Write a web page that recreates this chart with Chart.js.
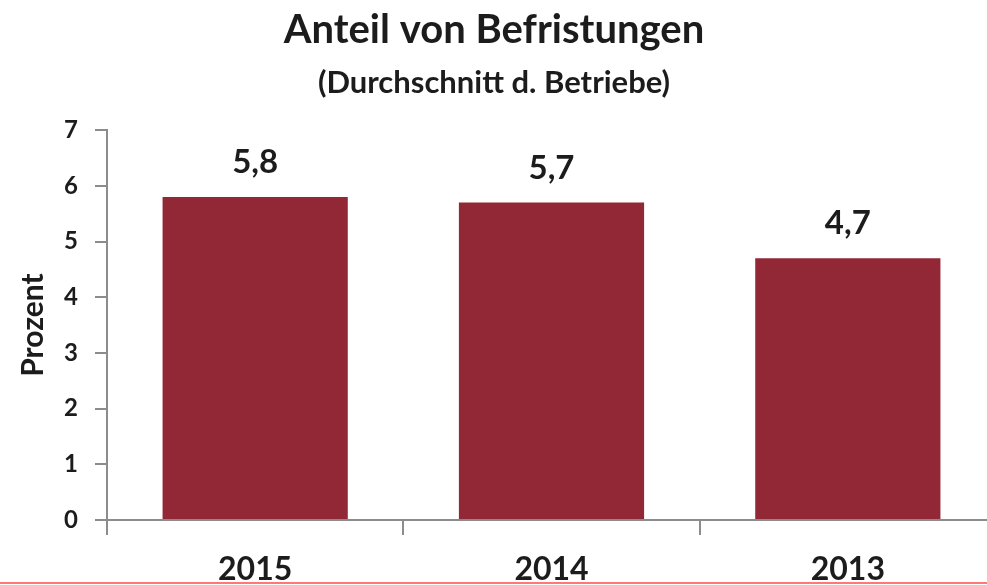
<!DOCTYPE html>
<html>
<head>
<meta charset="utf-8">
<script src="https://cdn.jsdelivr.net/npm/chart.js@4/dist/chart.umd.min.js"></script>
<style>
    body { margin: 0; background: #fff; }
    #wrap { position: relative; width: 987px; height: 585px; overflow: hidden; }
    #linie { position: absolute; left: 0; top: 582px; width: 987px; height: 2px; background: #f77; }
</style>
</head>
<body>
<div id="wrap">
    <!-- das Diagramm ist rechts leicht abgeschnitten, daher breiter als das Fenster -->
    <canvas id="grafico" width="996" height="585"></canvas>
    <div id="linie"></div>
</div>
<script>
// Daten
const jahre = ['2015', '2014', '2013']
const anteile = [5.8, 5.7, 4.7]
const yTicks = [0, 1, 2, 3, 4, 5, 6, 7]

const rot = '#922735'
const textFarbe = '#1c1c1c'
const achse = '#8c8c8c'
const schrift = 'Lato'

// Werte ueber den Balken
const werteOben = {
    id: 'werteOben',
    afterDatasetsDraw(chart) {
        const ctx = chart.ctx
        const meta = chart.getDatasetMeta(0)
        ctx.save()
        ctx.font = 'bold 33px ' + schrift
        ctx.fillStyle = textFarbe
        ctx.textAlign = 'center'
        ctx.textBaseline = 'alphabetic'
        meta.data.forEach((bar, i) => {
            let txt = anteile[i].toFixed(1).replace('.', ',')
            ctx.fillText(txt, bar.x, bar.y - 24)
        })
        ctx.restore()
    }
}

const config = {
    type: 'bar',
    data: {
        labels: jahre,
        datasets: [{
            label: 'Anteil',
            data: anteile,
            backgroundColor: rot,
            borderWidth: 0,
            barPercentage: 0.625,
            categoryPercentage: 1
        }]
    },
    options: {
        responsive: false,
        animation: false,
        layout: { padding: { left: -8, right: 0, top: 0, bottom: 0 } },
        plugins: {
            legend: { display: false },
            tooltip: { enabled: false },
            title: {
                display: true,
                text: 'Anteil von Befristungen',
                color: textFarbe,
                font: { family: schrift, size: 40, weight: 'bold' },
                padding: { top: 6, bottom: 0 }
            },
            subtitle: {
                display: true,
                text: '(Durchschnitt d. Betriebe)',
                color: textFarbe,
                font: { family: schrift, size: 31, weight: 'bold' },
                padding: { top: 10, bottom: 29 }
            }
        },
        scales: {
            x: {
                afterFit: s => { s.height = 65 },
                grid: {
                    offset: true,
                    drawOnChartArea: false,
                    color: achse,
                    lineWidth: 2,
                    tickLength: 15
                },
                border: { color: achse, width: 2 },
                ticks: {
                    color: textFarbe,
                    font: { family: schrift, size: 32, weight: 'bold' },
                    padding: 15
                }
            },
            y: {
                min: 0,
                max: 7,
                afterBuildTicks: s => { s.ticks = yTicks.map(v => ({ value: v })) },
                afterFit: s => { s.width = 115 },
                grid: {
                    drawOnChartArea: false,
                    color: achse,
                    lineWidth: 2,
                    tickLength: 12
                },
                border: { color: achse, width: 2 },
                ticks: {
                    color: textFarbe,
                    font: { family: schrift, size: 24, weight: 'bold' },
                    padding: 17
                },
                title: {
                    display: true,
                    text: 'Prozent',
                    color: textFarbe,
                    font: { family: schrift, size: 30, weight: 'bold' },
                    padding: { top: 23, bottom: 0 }
                }
            }
        }
    },
    plugins: [werteOben]
}

new Chart(document.getElementById('grafico'), config)
</script>
</body>
</html>
